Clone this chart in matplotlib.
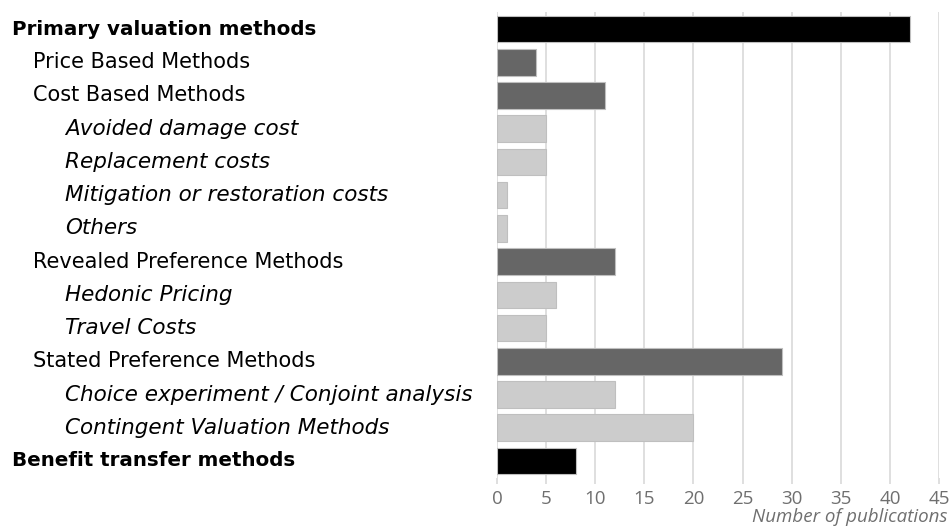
import matplotlib.pyplot as plt
import matplotlib.transforms as mtransforms

# Data
labels = ["Primary valuation methods", "Price Based Methods", "Cost Based Methods",
          "Avoided damage cost", "Replacement costs", "Mitigation or restoration costs",
          "Others", "Revealed Preference Methods", "Hedonic Pricing", "Travel Costs",
          "Stated Preference Methods", "Choice experiment / Conjoint analysis",
          "Contingent Valuation Methods", "Benefit transfer methods"]
levels = [0, 1, 1, 2, 2, 2, 2, 1, 2, 2, 1, 2, 2, 0]
counts = [42, 4, 11, 5, 5, 1, 1, 12, 6, 5, 29, 12, 20, 8]
xticks = [0, 5, 10, 15, 20, 25, 30, 35, 40, 45]

level_color = {0: "#000000", 1: "#666666", 2: "#cccccc"}
level_indent = {0: 12, 1: 33, 2: 65}  # pixels from left
level_size = {0: 14.3, 1: 15, 2: 15.5}

W, H = 952, 527
fig = plt.figure(figsize=(W / 100, H / 100), dpi=100)
ax = fig.add_axes([497 / W, 1 - 477.6 / H, (939 - 497) / W, (477.6 - 12.4) / H])

y = list(range(len(labels)))
colors = [level_color[l] for l in levels]
ax.barh(y, counts, height=0.8, color=colors, edgecolor="#bfbfbf", linewidth=0.8, zorder=3)

ax.set_xlim(0, 45)
ax.set_ylim(len(labels) - 0.5, -0.5)
ax.set_xticks(xticks)
ax.set_yticks([])
ax.grid(axis="x", color="#d9d9d9", linewidth=1.2, zorder=0)
for s in ax.spines.values():
    s.set_visible(False)
ax.tick_params(axis="x", length=4, width=1.2, color="#d9d9d9", labelcolor="#6f6f6f",
               labelsize=13.5, pad=5)
for t in ax.get_xticklabels():
    t.set_fontfamily("Open Sans")

# category labels on the left, indented by level
trans = mtransforms.blended_transform_factory(fig.transFigure, ax.transData)
for i, (lab, lev) in enumerate(zip(labels, levels)):
    ax.text(level_indent[lev] / W, i, lab, transform=trans, ha="left", va="center",
            fontsize=level_size[lev], fontweight="bold" if lev == 0 else "normal",
            fontstyle="italic" if lev == 2 else "normal", color="#000000",
            family="DejaVu Sans")

fig.text(948 / W, 1 - 517 / H, "Number of publications", ha="right", va="center",
         fontsize=13.5, fontstyle="italic", color="#6f6f6f", family="Open Sans")

fig.savefig("out.png", dpi=100)
